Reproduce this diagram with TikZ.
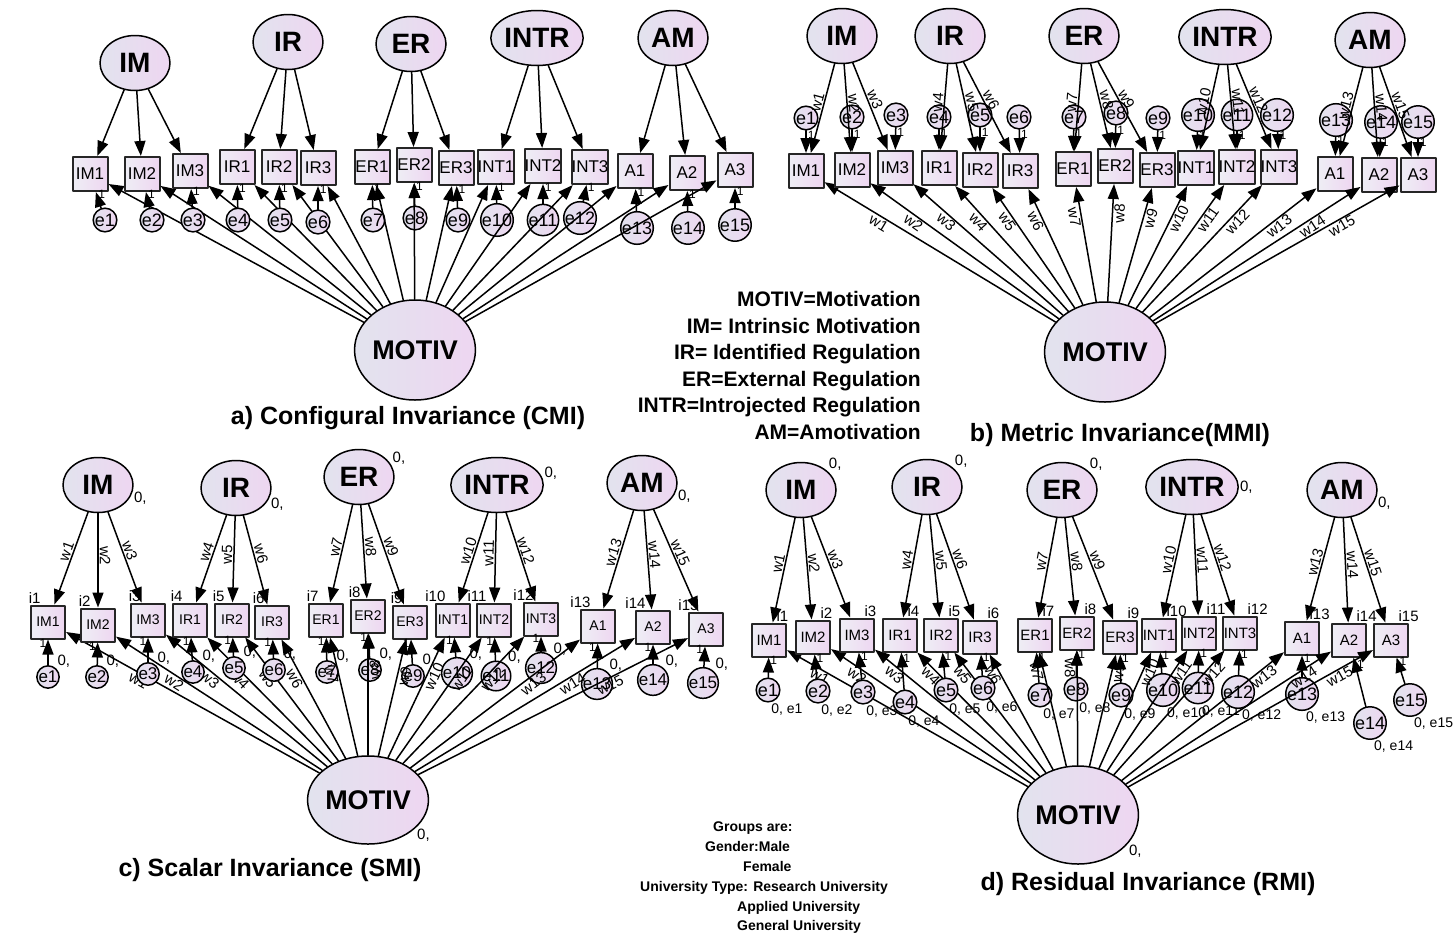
\documentclass[tikz,border=0pt]{standalone}
\usepackage{fontspec}
\setmainfont{Liberation Sans}
\usetikzlibrary{arrows.meta,shapes.geometric}

\definecolor{lavL}{HTML}{E2E3EE}
\definecolor{lavR}{HTML}{EED6F1}

\tikzset{
  latent/.style={ellipse,draw,line width=1.5pt,left color=lavL,right color=lavR,minimum width=70pt,minimum height=55pt,inner sep=0pt,font=\fontsize{28}{30}\selectfont\bfseries},
  motiv/.style={latent,minimum width=110pt,minimum height=100pt,font=\fontsize{27}{30}\selectfont\bfseries},
  obs/.style={rectangle,draw=black!85,line width=2pt,left color=lavL!60!white,right color=lavR,minimum width=35pt,minimum height=34pt,inner sep=0pt,font=\fontsize{17}{18}\selectfont},
  err/.style={circle,draw,line width=1.5pt,left color=lavL,right color=lavR,minimum size=23pt,inner sep=0pt,font=\fontsize{18}{18}\selectfont},
  arr/.style={line width=1.5pt,-{Triangle[length=15pt,width=11pt]}},
  lbl/.style={font=\fontsize{15}{15}\selectfont,inner sep=1pt},
  one/.style={font=\fontsize{12}{12}\selectfont,inner sep=1pt},
  paneltitle/.style={font=\fontsize{25}{28}\selectfont\bfseries},
}

\begin{document}
\begin{tikzpicture}[line cap=round,line join=round,x=1pt,y=-1pt]
\useasboundingbox (0,0) rectangle (1453,935);

\node[motiv] (a-M) at (415,350) {MOTIV};
\foreach \f/\x/\y in {IM/135/63,IR/288/42,ER/411/44,INTR/537/38,AM/673/38}
  \node[latent] (a-\f) at (\x,\y) {\f};
\foreach \n/\x/\y/\f/\ex/\ey [count=\i] in {IM1/90/174/IM/105/220,IM2/142/174/IM/152/220,IM3/190/171/IM/193/220,IR1/237/167/IR/238/220,IR2/279/167/IR/280/220,IR3/318/168/IR/318/222,ER1/372/167/ER/373/220,ER2/414/165/ER/415/218,ER3/456/168/ER/458/220,INT1/496/167/INTR/497/220,INT2/543/166/INTR/543/220,INT3/590/167/INTR/580/218,A1/635/171/AM/637/228,A2/687/173/AM/688/228,A3/735/170/AM/735/225}{
  \node[obs] (a-\n) at (\x,\y) {\n};
  \node[err] (a-e\i) at (\ex,\ey) {e\i};
  \draw[arr] (a-\f) -- (a-\n);
  \draw[arr] (a-e\i) -- node[one,pos=0.85,right]{1} (a-\n);
  \draw[arr] (a-M) -- (a-\n);
}
\node[paneltitle] (a-title) at (408,418) {a) Configural Invariance (CMI)};

\node[motiv] (b-M) at (1105,352) {MOTIV};
\foreach \f/\x/\y in {IM/842/36,IR/950/36,ER/1084/36,INTR/1225/37,AM/1370/40}
  \node[latent] (b-\f) at (\x,\y) {\f};
\foreach \n/\x/\y/\f/\ex/\ey [count=\i] in {IM1/806/171/IM/806/118,IM2/852/170/IM/852/117,IM3/895/168/IM/896/115,IR1/939/168/IR/939/117,IR2/980/170/IR/980/115,IR3/1020/171/IR/1019/117,ER1/1073/169/ER/1074/117,ER2/1115/166/ER/1116/113,ER3/1157/170/ER/1158/118,INT1/1196/168/INTR/1198/115,INT2/1237/167/INTR/1237/115,INT3/1279/167/INTR/1277/115,A1/1335/174/AM/1336/120,A2/1379/175/AM/1381/122,A3/1418/175/AM/1418/122}{
  \node[obs] (b-\n) at (\x,\y) {\n};
  \node[err] (b-e\i) at (\ex,\ey) {e\i};
  \draw[arr] (b-\f) -- node[lbl,sloped,above,pos=0.45]{w\i} (b-\n);
  \draw[arr] (b-e\i) -- node[one,pos=0.2,right]{1} (b-\n);
  \draw[arr] (b-M) -- node[lbl,sloped,below,pos=0.75]{w\i} (b-\n);
}
\node[paneltitle] (b-title) at (1120,435) {b) Metric Invariance(MMI)};

\node[font=\fontsize{21}{26.6}\selectfont\bfseries,align=right,anchor=north east,inner sep=0pt] (key) at (921,291) {MOTIV=Motivation\\IM= Intrinsic Motivation\\IR= Identified Regulation\\ER=External Regulation\\INTR=Introjected Regulation\\AM=Amotivation};

\node[motiv,minimum width=95pt,minimum height=88pt,label={[lbl]-30:0,}] (c-M) at (368,800) {MOTIV};
\foreach \f/\x/\y/\a in {IM/98/485/-10,IR/236/488/-15,ER/359/477/20,INTR/497/485/5,AM/642/483/-10}
  \node[latent,label={[lbl]\a:0,}] (c-\f) at (\x,\y) {\f};
\foreach \n/\x/\y/\f/\ex/\ey [count=\i] in {IM1/48/622/IM/48/677,IM2/98/625/IM/97/677,IM3/148/620/IM/148/674,IR1/190/620/IR/193/672,IR2/232/620/IR/234/668,IR3/272/622/IR/274/670,ER1/326/620/ER/327/672,ER2/368/616/ER/370/670,ER3/410/622/ER/413/676,INT1/453/620/INTR/457/673,INT2/494/620/INTR/496/676,INT3/541/619/INTR/541/668,A1/598/626/AM/597/684,A2/653/627/AM/653/680,A3/706/629/AM/703/683}{
  \node[obs,minimum width=34pt,minimum height=33pt,font=\fontsize{14}{14}\selectfont,label={[lbl]110:i\i}] (c-\n) at (\x,\y) {\n};
  \node[err,minimum size=22pt,font=\fontsize{17}{17}\selectfont,label={[lbl]45:0,}] (c-e\i) at (\ex,\ey) {e\i};
  \draw[arr] (c-\f) -- node[lbl,sloped,above,pos=0.45]{w\i} (c-\n);
  \draw[arr] (c-e\i) -- node[one,pos=0.85,left]{1} (c-\n);
  \draw[arr] (c-M) -- node[lbl,sloped,below,pos=0.7]{w\i} (c-\n);
}
\node[paneltitle] (c-title) at (270,870) {c) Scalar Invariance (SMI)};

\node[motiv,minimum width=105pt,minimum height=98pt,label={[lbl]-30:0,}] (d-M) at (1078,815) {MOTIV};
\foreach \f/\x/\y/\a in {IM/801/490/35,IR/927/487/35,ER/1062/490/35,INTR/1192/487/0,AM/1342/490/-10}
  \node[latent,label={[lbl]\a:0,}] (d-\f) at (\x,\y) {\f};
\foreach \n/\x/\y/\f/\ex/\ey [count=\i] in {IM1/769/640/IM/768/690,IM2/813/637/IM/818/691,IM3/857/635/IM/863/692,IR1/900/635/IR/905/702,IR2/941/635/IR/946/690,IR3/980/637/IR/983/688,ER1/1035/635/ER/1040/695,ER2/1077/633/ER/1076/689,ER3/1120/637/ER/1121/695,INT1/1159/635/INTR/1163/690,INT2/1199/633/INTR/1198/688,INT3/1240/633/INTR/1238/692,A1/1302/638/AM/1302/694,A2/1349/640/AM/1370/723,A3/1391/640/AM/1410/700}{
  \node[obs,minimum width=34pt,minimum height=33pt,font=\fontsize{15}{15}\selectfont,label={[lbl]70:i\i}] (d-\n) at (\x,\y) {\n};
  \node[err,minimum size=23pt,label={[lbl,font=\fontsize{14}{14}\selectfont]-80:{0, e\i}}] (d-e\i) at (\ex,\ey) {e\i};
  \draw[arr] (d-\f) -- node[lbl,sloped,above,pos=0.45]{w\i} (d-\n);
  \draw[arr] (d-e\i) -- node[one,pos=0.85,right]{1} (d-\n);
  \draw[arr] (d-M) -- node[lbl,sloped,below,pos=0.85]{w\i} (d-\n);
}
\node[paneltitle] (d-title) at (1148,884) {d) Residual Invariance (RMI)};

\node[font=\fontsize{14}{19.8}\selectfont\bfseries,align=left,anchor=north west,inner sep=0pt] (groups) at (640,822) {\hspace*{73pt}Groups are:\\\hspace*{65pt}Gender:Male\\\hspace*{103pt}Female\\University Type: Research University\\\hspace*{97pt}Applied University\\\hspace*{97pt}General University};
\end{tikzpicture}
\end{document}
